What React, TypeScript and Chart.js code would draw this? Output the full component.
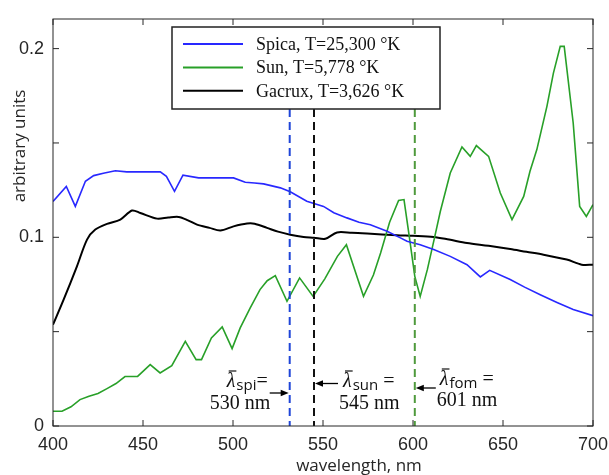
import React, { useEffect, useRef } from "react";
import { Chart, registerables } from "chart.js";
Chart.register(...registerables);

// ---- data ----
const spicaWl = [400, 407.4, 412.4, 418, 422.6, 428, 434.6, 441, 450, 459.6, 463, 467.5, 472.2, 480.9, 490, 500.3, 506.8, 512, 517, 526.3, 531.8, 541, 550.3, 556, 563.3, 570, 576.3, 585.6, 593, 596.7, 604, 611.5, 620.7, 630, 637.4, 642.6, 654, 662, 670.7, 680, 689, 700];
const spicaVal = [0.119, 0.127, 0.1164, 0.1297, 0.1327, 0.134, 0.1353, 0.1347, 0.1347, 0.1347, 0.1323, 0.1244, 0.1329, 0.1315, 0.1315, 0.1315, 0.1292, 0.1288, 0.1283, 0.1262, 0.1241, 0.1191, 0.1164, 0.113, 0.1103, 0.108, 0.1067, 0.1032, 0.0997, 0.0979, 0.0961, 0.0935, 0.0899, 0.0855, 0.079, 0.0825, 0.0776, 0.0736, 0.0696, 0.0655, 0.0617, 0.0585];

const sunWl = [400, 405, 410, 415, 420, 425, 430, 435, 440, 447, 454, 459.5, 466, 473.5, 479.5, 482.5, 488, 494, 499.5, 504, 509.5, 515, 519, 523.5, 530, 537, 544.5, 551, 558, 563, 572.5, 578, 582, 587, 592, 595, 598, 601, 604, 608, 612, 615.2, 620.7, 627.2, 631.8, 635.2, 642, 648.5, 655, 661.5, 665, 668.8, 674.4, 678, 681.8, 684, 689, 692.6, 696.3, 700];
const sunVal = [0.0078, 0.0078, 0.0102, 0.014, 0.0158, 0.0172, 0.0198, 0.0225, 0.0262, 0.0263, 0.0325, 0.0281, 0.032, 0.0449, 0.0352, 0.0352, 0.0467, 0.0525, 0.041, 0.052, 0.0625, 0.0723, 0.077, 0.0797, 0.0661, 0.0785, 0.0687, 0.078, 0.0899, 0.0961, 0.0687, 0.08, 0.0917, 0.108, 0.1195, 0.12, 0.1, 0.0793, 0.0687, 0.083, 0.1, 0.1138, 0.1341, 0.1479, 0.1429, 0.1486, 0.1429, 0.1235, 0.1094, 0.1217, 0.135, 0.1465, 0.1694, 0.187, 0.2012, 0.2012, 0.1606, 0.1164, 0.1111, 0.1173];

const gacruxWl = [400, 405.9, 413.3, 418.9, 423.5, 430, 437.4, 443.9, 448.5, 457.8, 464, 469.8, 475, 480, 487, 493, 500.3, 507.8, 512, 518.9, 525, 531.8, 539.2, 545, 551.3, 557.8, 566, 574.5, 591.1, 600, 611.5, 620, 630, 642, 654, 663, 672.5, 685.4, 693.7, 700];
const gacruxVal = [0.0537, 0.067, 0.0846, 0.0988, 0.1041, 0.1071, 0.1094, 0.1142, 0.1129, 0.1099, 0.1105, 0.1108, 0.109, 0.1067, 0.105, 0.1036, 0.1058, 0.1073, 0.1072, 0.105, 0.103, 0.1014, 0.1002, 0.0998, 0.0992, 0.1026, 0.1024, 0.102, 0.1011, 0.1008, 0.1002, 0.0988, 0.097, 0.0955, 0.0938, 0.0923, 0.0908, 0.0882, 0.0855, 0.0855];

const seriesNames = ["Spica, T=25,300 °K", "Sun, T=5,778 °K", "Gacrux, T=3,626 °K"];
const markerWl = [531.5, 545, 601];
const markerSubs = ["spi", "sun", "fom"];
const markerEq = ["=", " =", " ="];
const markerNm = ["530 nm", "545 nm", "601 nm"];

const xMin = 400, xMax = 700, xStep = 50;
const yMin = 0, yMax = 0.2157, yStep = 0.05;
const xTitle = "wavelength, nm";
const yTitle = "arbitrary units";

const pts = (xs: number[], ys: number[]) => xs.map((x, i) => ({ x, y: ys[i] }));

const AXIS = "#262626";
const serif = '"Liberation Serif", "DejaVu Serif", serif';
const sans = '"Liberation Sans", Arial, sans-serif';
const titleFont = '"Open Sans", "Noto Sans", sans-serif';

function arrow(ctx: CanvasRenderingContext2D, x1: number, x2: number, y: number) {
  ctx.save();
  ctx.strokeStyle = "#000";
  ctx.fillStyle = "#000";
  ctx.lineWidth = 1.3;
  const dir = x2 > x1 ? 1 : -1;
  ctx.beginPath();
  ctx.moveTo(x1, y);
  ctx.lineTo(x2 - dir * 6, y);
  ctx.stroke();
  ctx.beginPath();
  ctx.moveTo(x2, y);
  ctx.lineTo(x2 - dir * 8, y - 3.2);
  ctx.lineTo(x2 - dir * 8, y + 3.2);
  ctx.closePath();
  ctx.fill();
  ctx.restore();
}

function drawLambda(ctx: CanvasRenderingContext2D, x: number, base: number, sub: string, eq: string) {
  ctx.save();
  ctx.fillStyle = "#111";
  ctx.textAlign = "left";
  ctx.textBaseline = "alphabetic";
  ctx.font = `italic 20px ${serif}`;
  ctx.fillText("λ", x, base);
  const w = ctx.measureText("λ").width;
  ctx.strokeStyle = "#111";
  ctx.lineWidth = 1.2;
  ctx.beginPath();
  ctx.moveTo(x + 2, base - 16);
  ctx.lineTo(x + w + 1, base - 16);
  ctx.stroke();
  ctx.font = `15px ${titleFont}`;
  ctx.fillText(sub, x + w + 1, base + 3);
  const sw = ctx.measureText(sub).width;
  ctx.font = `20px ${serif}`;
  ctx.fillText(eq, x + w + 1 + sw, base);
  ctx.restore();
  return w + 1 + sw;
}

const decorPlugin = {
  id: "decor",
  afterDatasetsDraw(chart: any) {
    const ctx: CanvasRenderingContext2D = chart.ctx;
    const { left, right, top, bottom } = chart.chartArea;
    const xs = chart.scales.x;
    const ys = chart.scales.y;

    // legend box geometry
    const lg = { l: 172, t: 27, r: 440, b: 109 };

    // dashed marker lines
    const dashColors = ["#1f45d8", "#111111", "#4f9a3c"];
    markerWl.forEach((wl, i) => {
      const px = xs.getPixelForValue(wl);
      ctx.save();
      ctx.strokeStyle = dashColors[i];
      ctx.lineWidth = 2;
      ctx.setLineDash([8, 5]);
      ctx.beginPath();
      ctx.moveTo(px, lg.b);
      ctx.lineTo(px, bottom);
      ctx.stroke();
      ctx.restore();
    });

    // legend
    ctx.save();
    ctx.fillStyle = "#fff";
    ctx.fillRect(lg.l, lg.t, lg.r - lg.l, lg.b - lg.t);
    ctx.strokeStyle = "#222";
    ctx.lineWidth = 1.5;
    ctx.strokeRect(lg.l, lg.t, lg.r - lg.l, lg.b - lg.t);
    chart.data.datasets.forEach((ds: any, i: number) => {
      const yy = lg.t + 17 + i * 23.4;
      ctx.strokeStyle = ds.borderColor;
      ctx.lineWidth = 2;
      ctx.beginPath();
      ctx.moveTo(lg.l + 11, yy);
      ctx.lineTo(lg.l + 71, yy);
      ctx.stroke();
      ctx.fillStyle = "#111";
      ctx.font = `18px ${serif}`;
      ctx.textBaseline = "middle";
      ctx.textAlign = "left";
      ctx.fillText(ds.label, lg.l + 84, yy + 1);
    });
    ctx.restore();

    // frame + inward ticks
    ctx.save();
    ctx.strokeStyle = AXIS;
    ctx.lineWidth = 1;
    ctx.strokeRect(left, top, right - left, bottom - top);
    ctx.beginPath();
    xs.ticks.forEach((t: any) => {
      const p = xs.getPixelForValue(t.value);
      ctx.moveTo(p, bottom);
      ctx.lineTo(p, bottom - 6);
      ctx.moveTo(p, top);
      ctx.lineTo(p, top + 6);
    });
    ys.ticks.forEach((t: any) => {
      const p = ys.getPixelForValue(t.value);
      ctx.moveTo(left, p);
      ctx.lineTo(left + 6, p);
      ctx.moveTo(right, p);
      ctx.lineTo(right - 6, p);
    });
    ctx.stroke();
    ctx.restore();

    // marker annotations
    const p0 = xs.getPixelForValue(markerWl[0]);
    const p1 = xs.getPixelForValue(markerWl[1]);
    const p2 = xs.getPixelForValue(markerWl[2]);
    ctx.save();
    drawLambda(ctx, p0 - 63, 387, markerSubs[0], markerEq[0]);
    drawLambda(ctx, p1 + 29, 387, markerSubs[1], markerEq[1]);
    drawLambda(ctx, p2 + 25, 385, markerSubs[2], markerEq[2]);
    ctx.fillStyle = "#111";
    ctx.font = `20px ${serif}`;
    ctx.textBaseline = "alphabetic";
    ctx.textAlign = "left";
    ctx.fillText(markerNm[0], p0 - 80, 409);
    ctx.fillText(markerNm[1], p1 + 25, 409);
    ctx.fillText(markerNm[2], p2 + 22, 406);
    ctx.restore();
    arrow(ctx, p0 - 20, p0 - 1, 393);
    arrow(ctx, p1 + 24, p1 + 1, 383.5);
    arrow(ctx, p2 + 21, p2 + 1, 388);

    // axis titles
    ctx.save();
    ctx.fillStyle = AXIS;
    ctx.font = `17px ${titleFont}`;
    ctx.textAlign = "center";
    ctx.textBaseline = "alphabetic";
    ctx.fillText(xTitle, 359, 471);
    ctx.translate(25, 146);
    ctx.rotate(-Math.PI / 2);
    ctx.fillText(yTitle, 0, 0);
    ctx.restore();
  },
};

export default function App() {
  const ref = useRef<HTMLCanvasElement | null>(null);
  useEffect(() => {
    if (!ref.current) return;
    const chart = new Chart(ref.current, {
      type: "line",
      data: {
        datasets: [
          { label: seriesNames[0], data: pts(spicaWl, spicaVal), borderColor: "#2828ff", borderWidth: 1.6, pointRadius: 0, tension: 0 },
          { label: seriesNames[1], data: pts(sunWl, sunVal), borderColor: "#28a028", borderWidth: 1.6, pointRadius: 0, tension: 0 },
          { label: seriesNames[2], data: pts(gacruxWl, gacruxVal), borderColor: "#000000", borderWidth: 2, pointRadius: 0, tension: 0.3 },
        ],
      },
      options: {
        animation: false,
        responsive: false,
        maintainAspectRatio: false,
        layout: { padding: { top: 19, right: 16, left: 0, bottom: 0 } },
        plugins: { legend: { display: false }, tooltip: { enabled: false }, title: { display: false } },
        scales: {
          x: {
            type: "linear",
            min: xMin,
            max: xMax,
            grid: { display: false, drawTicks: false },
            border: { display: false },
            ticks: {
              stepSize: xStep,
              includeBounds: false,
              autoSkip: false,
              maxRotation: 0,
              padding: 8,
              color: AXIS,
              font: { family: sans, size: 18 },
              callback: (v: any) => String(v),
            },
            afterFit: (s: any) => { s.height = 49; s.paddingLeft = 0; s.paddingRight = 0; },
          },
          y: {
            type: "linear",
            min: yMin,
            max: yMax,
            grid: { display: false, drawTicks: false },
            border: { display: false },
            ticks: {
              stepSize: yStep,
              includeBounds: false,
              autoSkip: false,
              padding: 9,
              color: AXIS,
              font: { family: sans, size: 18 },
              callback: (v: any) => {
                const t = Number(v) * 10;
                return Math.abs(t - Math.round(t)) < 1e-6 ? String(Math.round(t) / 10) : "";
              },
            },
            afterFit: (s: any) => { s.width = 53; s.paddingTop = 0; s.paddingBottom = 0; },
          },
        },
      } as any,
      plugins: [decorPlugin],
    });
    return () => chart.destroy();
  }, []);
  return (
    <canvas
      ref={ref}
      width={609}
      height={475}
      style={{ position: "absolute", left: 0, top: 0, width: 609, height: 475, display: "block", background: "#fff" }}
    />
  );
}
